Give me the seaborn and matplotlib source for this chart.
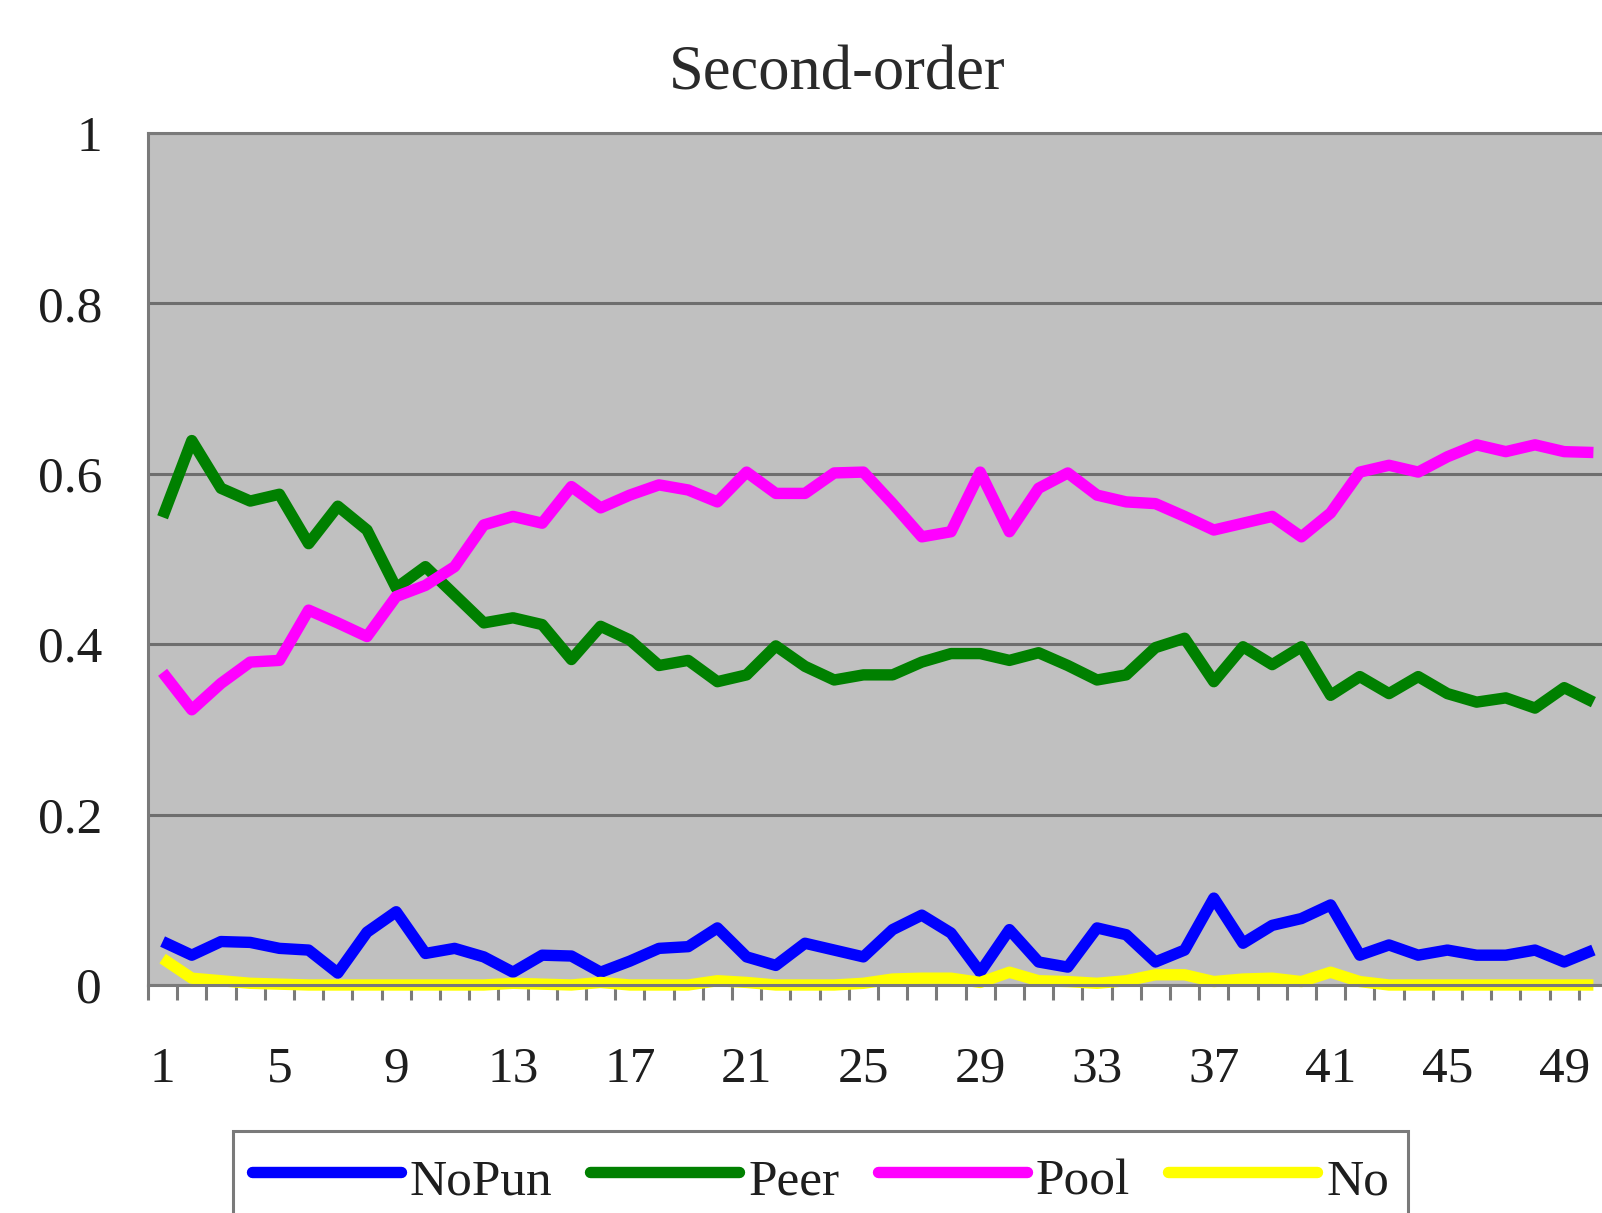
import numpy as np
import pandas as pd
import matplotlib
matplotlib.use("Agg")
import matplotlib.pyplot as plt
import seaborn as sns
from matplotlib.lines import Line2D

# ---------------- data ----------------
rounds = list(range(1, 51))
series_names = ["NoPun", "Peer", "Pool", "No"]
series_colors = ["#0000FF", "#008000", "#FF00FF", "#FFFF00"]

nopun = [0.051, 0.035, 0.051, 0.050, 0.043, 0.041, 0.014, 0.062, 0.086, 0.037,
         0.043, 0.033, 0.015, 0.035, 0.034, 0.015, 0.028, 0.043, 0.045, 0.067,
         0.033, 0.023, 0.049, 0.041, 0.033, 0.065, 0.082, 0.061, 0.015, 0.065,
         0.027, 0.021, 0.067, 0.059, 0.027, 0.041, 0.102, 0.049, 0.070, 0.078,
         0.094, 0.035, 0.047, 0.035, 0.041, 0.035, 0.035, 0.041, 0.027, 0.041]
peer = [0.549, 0.639, 0.583, 0.568, 0.576, 0.518, 0.562, 0.534, 0.466, 0.491,
        0.458, 0.425, 0.431, 0.423, 0.382, 0.421, 0.405, 0.375, 0.381, 0.356,
        0.364, 0.398, 0.374, 0.358, 0.364, 0.364, 0.379, 0.389, 0.389, 0.381,
        0.390, 0.375, 0.358, 0.364, 0.396, 0.407, 0.356, 0.397, 0.376, 0.397,
        0.340, 0.362, 0.342, 0.362, 0.342, 0.332, 0.337, 0.325, 0.349, 0.332]
pool = [0.367, 0.323, 0.354, 0.379, 0.381, 0.440, 0.425, 0.409, 0.456, 0.469,
        0.491, 0.540, 0.550, 0.542, 0.585, 0.560, 0.575, 0.587, 0.581, 0.567,
        0.602, 0.577, 0.577, 0.601, 0.602, 0.565, 0.526, 0.532, 0.602, 0.532,
        0.583, 0.601, 0.575, 0.567, 0.565, 0.550, 0.534, 0.542, 0.550, 0.526,
        0.554, 0.602, 0.610, 0.602, 0.620, 0.634, 0.626, 0.634, 0.626, 0.625]
no = [0.031, 0.008, 0.005, 0.002, 0.001, 0.000, 0.000, 0.000, 0.000, 0.000,
      0.000, 0.000, 0.002, 0.001, 0.000, 0.003, 0.000, 0.000, 0.000, 0.005,
      0.003, 0.000, 0.000, 0.000, 0.002, 0.007, 0.008, 0.008, 0.003, 0.015,
      0.005, 0.004, 0.002, 0.005, 0.012, 0.012, 0.004, 0.007, 0.008, 0.004,
      0.015, 0.004, 0.000, 0.000, 0.000, 0.000, 0.000, 0.000, 0.000, 0.000]

title = "Second-order"
y_ticks = [0, 0.2, 0.4, 0.6, 0.8, 1.0]
y_tick_labels = ["0", "0.2", "0.4", "0.6", "0.8", "1"]
x_tick_values = rounds[::4]
x_tick_labels = [str(v) for v in x_tick_values]

# ---------------- style ----------------
sns.set_theme(style="white")
plt.rcParams["font.family"] = ["Liberation Serif", "DejaVu Serif"]

LW = 8.2
W, H = 1602, 1213
fig = plt.figure(figsize=(W / 100, H / 100), dpi=100)
fig.patch.set_facecolor("white")
ax = fig.add_axes([148 / W, 228 / H, 1460 / W, 852 / H])
ax.set_facecolor("#C0C0C0")

df = pd.DataFrame({
    "round": rounds * 4,
    "value": nopun + peer + pool + no,
    "series": np.repeat(series_names, len(rounds)),
})

sns.lineplot(data=df, x="round", y="value", hue="series",
             hue_order=series_names, palette=series_colors,
             linewidth=LW, estimator=None, sort=False,
             legend=False, ax=ax)
for ln in ax.lines:
    ln.set_clip_on(False)
    ln.set_solid_joinstyle("round")
    ln.set_solid_capstyle("butt")

ax.set_xlim(0.5, 50.5)
ax.set_ylim(0, 1)
ax.set_xlabel("")
ax.set_ylabel("")

for side in ["left", "top", "bottom"]:
    ax.spines[side].set_color("#7a7a7a")
    ax.spines[side].set_linewidth(2.2)
    ax.spines[side].set_visible(True)
ax.spines["right"].set_visible(False)

ax.yaxis.grid(True, color="#6e6e6e", linewidth=2.2)
ax.xaxis.grid(False)
ax.set_axisbelow(True)

ax.set_yticks(y_ticks)
ax.set_yticklabels(y_tick_labels)
ax.tick_params(axis="y", left=False, length=0, pad=33, labelsize=37,
               labelcolor="#1e1e1e")

ax.set_xticks(x_tick_values)
ax.set_xticklabels(x_tick_labels)
ax.set_xticks(np.arange(0.5, 51.0, 1.0), minor=True)
ax.tick_params(axis="x", which="major", bottom=False, length=0, pad=44,
               labelsize=37, labelcolor="#1e1e1e")
ax.tick_params(axis="x", which="minor", bottom=True, length=11, width=2.2,
               color="#7a7a7a", direction="out")

fig.text(837 / W, 1 - 74 / H, title, ha="center", va="center",
         fontsize=45, color="#2a2a2a")

handles = [Line2D([], [], color=c, linewidth=LW) for c in series_colors]
leg = fig.legend(handles, series_names, loc="upper left",
                 bbox_to_anchor=(233 / W, 1 - 1131 / H), ncol=4,
                 fontsize=37, frameon=True, fancybox=False,
                 edgecolor="#7a7a7a", facecolor="white", framealpha=1,
                 handlelength=2.9, handleheight=1.3, handletextpad=0.17,
                 columnspacing=0.75, borderpad=0.36, borderaxespad=0)
leg.get_frame().set_linewidth(2.2)
for t in leg.get_texts():
    t.set_color("#1e1e1e")

fig.savefig("out.png", dpi=100)
